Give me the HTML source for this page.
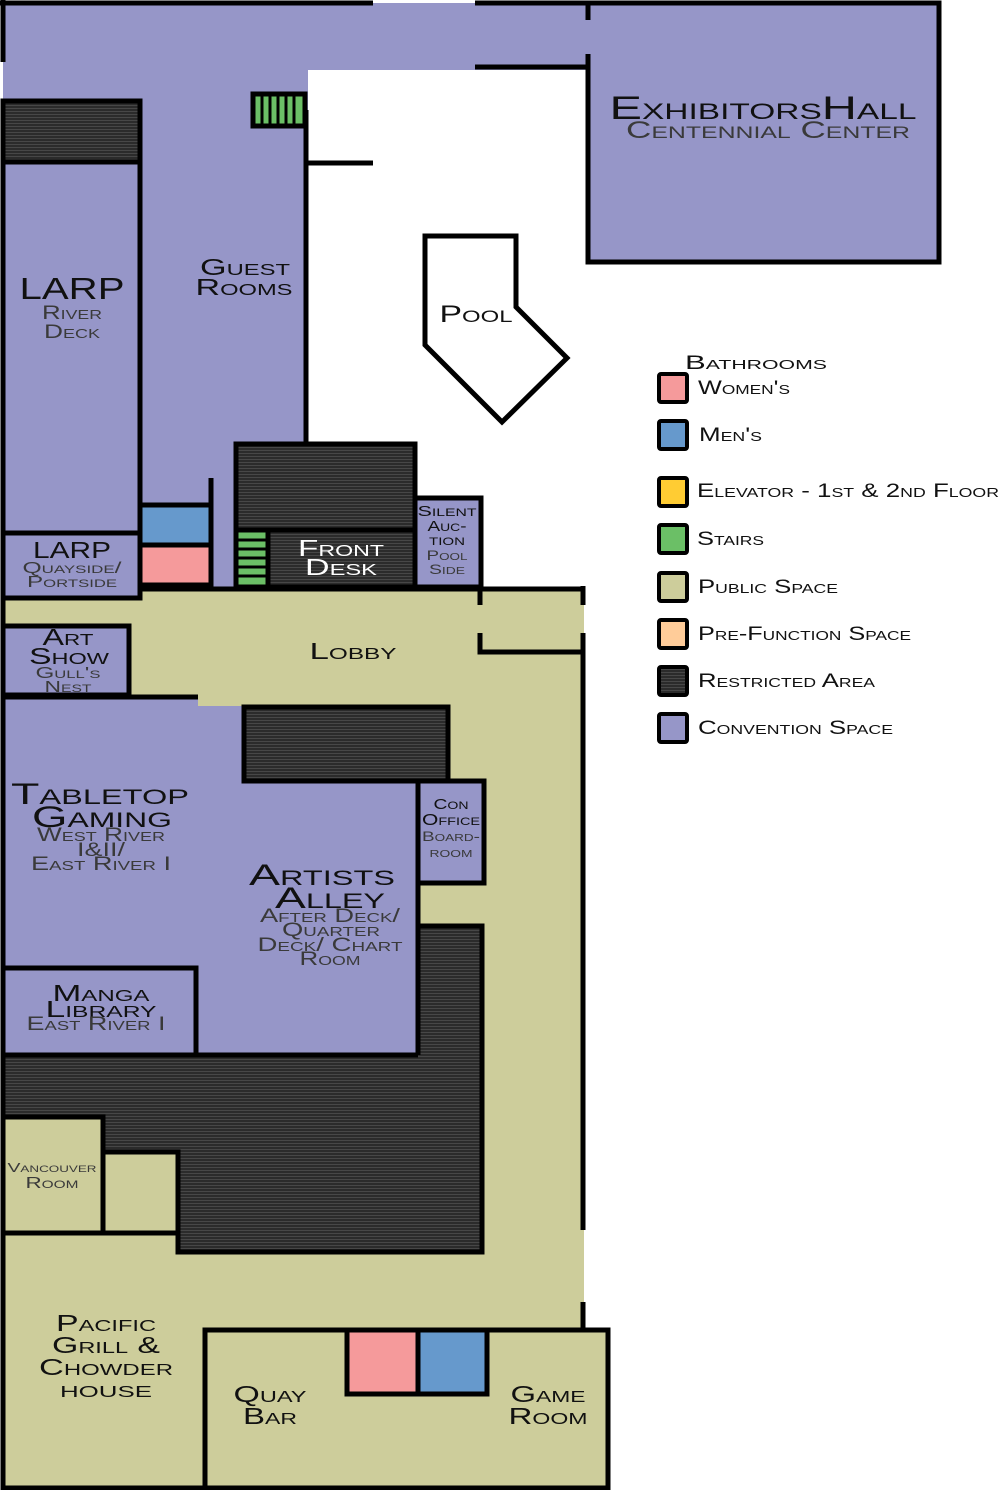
<!DOCTYPE html>
<html><head><style>
html,body{margin:0;padding:0;background:#fff;}
svg{display:block}
text{font-family:"Liberation Sans",sans-serif;font-variant:small-caps;text-anchor:middle;fill:#111;}
.s{fill:#3a3a3a}
.l{text-anchor:start;font-size:19px}
</style></head><body>
<svg width="1000" height="1490" viewBox="0 0 1000 1490" xmlns="http://www.w3.org/2000/svg">
<defs>
<pattern id="st" width="4" height="3" patternUnits="userSpaceOnUse">
<rect width="4" height="3" fill="#2b2b2b"/><rect y="0" width="4" height="1" fill="#474747"/>
</pattern>
</defs>
<g stroke="none">
<rect x="3" y="3" width="588" height="67" fill="#9696c8"/>
<rect x="3" y="70" width="305" height="520" fill="#9696c8"/>
<rect x="3" y="587" width="581" height="110" fill="#cdcd9b"/>
<rect x="418" y="690" width="166" height="650" fill="#cdcd9b"/>
<rect x="3" y="1233" width="581" height="255" fill="#cdcd9b"/>
<rect x="3" y="697" width="415" height="358" fill="#9696c8"/>
<rect x="198" y="690" width="386" height="16" fill="#cdcd9b"/>
<rect x="3" y="1055" width="480" height="197" fill="url(#st)"/>
<rect x="418" y="926" width="64" height="130" fill="url(#st)"/>
<rect x="3" y="1233" width="175" height="25" fill="#cdcd9b"/>
</g>
<g stroke="#000" stroke-width="5" fill="none">
<line x1="0" y1="3" x2="373" y2="3"/><line x1="475" y1="3" x2="590" y2="3"/>
<line x1="3" y1="0" x2="3" y2="62"/>
<line x1="475" y1="67" x2="590" y2="67"/>
<rect x="588" y="3" width="351" height="259" fill="#9696c8"/>
<line x1="306" y1="110" x2="306" y2="443"/>
<line x1="306" y1="163" x2="373" y2="163"/>
<polygon points="425,236 516,236 516,307 567,358 502,422 425,345" fill="#fff"/>
<rect x="253" y="94" width="52" height="32" fill="#6bbf66"/>
<rect x="3" y="101" width="137" height="61" fill="url(#st)"/>
<rect x="3" y="162" width="137" height="371" fill="#9696c8"/>
<rect x="3" y="533" width="137" height="65" fill="#9696c8"/>
<rect x="140" y="505" width="71" height="40" fill="#6699cc"/>
<rect x="140" y="545" width="71" height="40" fill="#f59a9b"/>
<line x1="211" y1="478" x2="211" y2="588"/>
<rect x="236" y="444" width="179" height="143" fill="url(#st)"/>
<rect x="236" y="530" width="32" height="57" fill="#6bbf66"/>
<rect x="268" y="530" width="147" height="57" fill="url(#st)"/>
<rect x="415" y="498" width="66" height="89" fill="#9696c8"/>
<line x1="140" y1="589" x2="583" y2="589"/>
<line x1="480" y1="587" x2="480" y2="605"/>
<polyline points="480,633 480,652 583,652"/>
<line x1="583" y1="586" x2="583" y2="605"/>
<line x1="583" y1="633" x2="583" y2="1230"/>
<line x1="583" y1="1302" x2="583" y2="1332"/>
<line x1="3" y1="587" x2="3" y2="1490"/>
<rect x="3" y="626" width="126" height="69" fill="#9696c8"/>
<line x1="3" y1="697" x2="198" y2="697"/>
<rect x="244" y="707" width="204" height="74" fill="url(#st)"/>
<rect x="418" y="781" width="66" height="102" fill="#9696c8"/>
<line x1="418" y1="781" x2="418" y2="1055"/>
<polyline points="418,926 482,926 482,1252 178,1252 178,1152"/>
<rect x="3" y="968" width="193" height="87" fill="#9696c8"/>
<line x1="3" y1="1055" x2="418" y2="1055"/>
<rect x="3" y="1117" width="100" height="116" fill="#cdcd9b"/>
<rect x="103" y="1152" width="75" height="81" fill="#cdcd9b"/>
<line x1="3" y1="1488" x2="205" y2="1488"/>
<rect x="205" y="1330" width="403" height="158" fill="#cdcd9b"/>
<rect x="347" y="1330" width="71" height="64" fill="#f59a9b"/>
<rect x="418" y="1330" width="69" height="64" fill="#6699cc"/>
</g>
<rect x="584" y="20" width="10" height="34" fill="#9696c8"/>
<g stroke="#000" stroke-width="3">
<line x1="262" y1="95" x2="262" y2="125"/><line x1="270" y1="95" x2="270" y2="125"/><line x1="278" y1="95" x2="278" y2="125"/><line x1="286" y1="95" x2="286" y2="125"/><line x1="294" y1="95" x2="294" y2="125"/>
<line x1="237" y1="540" x2="267" y2="540"/><line x1="237" y1="549" x2="267" y2="549"/><line x1="237" y1="558" x2="267" y2="558"/><line x1="237" y1="567" x2="267" y2="567"/><line x1="237" y1="576" x2="267" y2="576"/>
</g>
<text x="763" y="119" font-size="32" textLength="307" lengthAdjust="spacingAndGlyphs">ExhibitorsHall</text>
<text class="s" x="768" y="138" font-size="24" textLength="284" lengthAdjust="spacingAndGlyphs">Centennial Center</text>
<text x="245" y="275" font-size="23" textLength="90" lengthAdjust="spacingAndGlyphs">Guest</text>
<text x="244" y="295" font-size="23" textLength="97" lengthAdjust="spacingAndGlyphs">Rooms</text>
<text x="72" y="299" font-size="31" textLength="105" lengthAdjust="spacingAndGlyphs">LARP</text>
<text class="s" x="72" y="319" font-size="19" textLength="60" lengthAdjust="spacingAndGlyphs">River</text>
<text class="s" x="72" y="338" font-size="19" textLength="56" lengthAdjust="spacingAndGlyphs">Deck</text>
<text x="476" y="322" font-size="24" textLength="73" lengthAdjust="spacingAndGlyphs">Pool</text>
<text x="72" y="558" font-size="23" textLength="78" lengthAdjust="spacingAndGlyphs">LARP</text>
<text class="s" x="72" y="573" font-size="16" textLength="99" lengthAdjust="spacingAndGlyphs">Quayside/</text>
<text class="s" x="72" y="587" font-size="16" textLength="90" lengthAdjust="spacingAndGlyphs">Portside</text>
<text x="341" y="556" font-size="23" textLength="86" lengthAdjust="spacingAndGlyphs" style="fill:#fff">Front</text>
<text x="341" y="575" font-size="23" textLength="72" lengthAdjust="spacingAndGlyphs" style="fill:#fff">Desk</text>
<text x="447" y="516" font-size="15" textLength="59" lengthAdjust="spacingAndGlyphs">Silent</text>
<text x="447" y="531" font-size="15" textLength="39" lengthAdjust="spacingAndGlyphs">Auc-</text>
<text x="447" y="545" font-size="15" textLength="36" lengthAdjust="spacingAndGlyphs">tion</text>
<text class="s" x="447" y="560" font-size="14" textLength="41" lengthAdjust="spacingAndGlyphs">Pool</text>
<text class="s" x="447" y="574" font-size="14" textLength="36" lengthAdjust="spacingAndGlyphs">Side</text>
<text x="353" y="659" font-size="23" textLength="87" lengthAdjust="spacingAndGlyphs">Lobby</text>
<text x="68" y="645" font-size="23" textLength="51" lengthAdjust="spacingAndGlyphs">Art</text>
<text x="69" y="664" font-size="23" textLength="80" lengthAdjust="spacingAndGlyphs">Show</text>
<text class="s" x="68" y="678" font-size="16" textLength="65" lengthAdjust="spacingAndGlyphs">Gull's</text>
<text class="s" x="68" y="692" font-size="16" textLength="47" lengthAdjust="spacingAndGlyphs">Nest</text>
<text x="100" y="804" font-size="30" textLength="178" lengthAdjust="spacingAndGlyphs">Tabletop</text>
<text x="102" y="827" font-size="30" textLength="140" lengthAdjust="spacingAndGlyphs">Gaming</text>
<text class="s" x="101" y="841" font-size="19" textLength="128" lengthAdjust="spacingAndGlyphs">West River</text>
<text class="s" x="101" y="856" font-size="19" textLength="48" lengthAdjust="spacingAndGlyphs">I&amp;II/</text>
<text class="s" x="101" y="870" font-size="19" textLength="140" lengthAdjust="spacingAndGlyphs">East River I</text>
<text x="451" y="809" font-size="15" textLength="35" lengthAdjust="spacingAndGlyphs">Con</text>
<text x="451" y="825" font-size="16" textLength="58" lengthAdjust="spacingAndGlyphs">Office</text>
<text class="s" x="451" y="841" font-size="14" textLength="58" lengthAdjust="spacingAndGlyphs">Board-</text>
<text class="s" x="451" y="857" font-size="14" textLength="43" lengthAdjust="spacingAndGlyphs">room</text>
<text x="322" y="885" font-size="30" textLength="146" lengthAdjust="spacingAndGlyphs">Artists</text>
<text x="330" y="908" font-size="30" textLength="110" lengthAdjust="spacingAndGlyphs">Alley</text>
<text class="s" x="330" y="922" font-size="19" textLength="140" lengthAdjust="spacingAndGlyphs">After Deck/</text>
<text class="s" x="331" y="936" font-size="19" textLength="98" lengthAdjust="spacingAndGlyphs">Quarter</text>
<text class="s" x="330" y="951" font-size="19" textLength="145" lengthAdjust="spacingAndGlyphs">Deck/ Chart</text>
<text class="s" x="330" y="965" font-size="19" textLength="61" lengthAdjust="spacingAndGlyphs">Room</text>
<text x="101" y="1001" font-size="23" textLength="97" lengthAdjust="spacingAndGlyphs">Manga</text>
<text x="101" y="1017" font-size="23" textLength="111" lengthAdjust="spacingAndGlyphs">Library</text>
<text class="s" x="96" y="1030" font-size="19" textLength="139" lengthAdjust="spacingAndGlyphs">East River I</text>
<text class="s" x="52" y="1172" font-size="13" textLength="89" lengthAdjust="spacingAndGlyphs">Vancouver</text>
<text class="s" x="52" y="1188" font-size="16" textLength="53" lengthAdjust="spacingAndGlyphs">Room</text>
<text x="106" y="1331" font-size="23" textLength="100" lengthAdjust="spacingAndGlyphs">Pacific</text>
<text x="106" y="1353" font-size="23" textLength="108" lengthAdjust="spacingAndGlyphs">Grill &amp;</text>
<text x="106" y="1375" font-size="23" textLength="134" lengthAdjust="spacingAndGlyphs">Chowder</text>
<text x="106" y="1397" font-size="23" textLength="92" lengthAdjust="spacingAndGlyphs">house</text>
<text x="270" y="1402" font-size="23" textLength="73" lengthAdjust="spacingAndGlyphs">Quay</text>
<text x="270" y="1424" font-size="23" textLength="54" lengthAdjust="spacingAndGlyphs">Bar</text>
<text x="548" y="1402" font-size="23" textLength="75" lengthAdjust="spacingAndGlyphs">Game</text>
<text x="548" y="1424" font-size="23" textLength="79" lengthAdjust="spacingAndGlyphs">Room</text>
<g stroke="#000" stroke-width="4">
<rect x="659" y="374" width="28" height="28" rx="2" fill="#f59a9b"/>
<rect x="659" y="421" width="28" height="28" rx="2" fill="#6699cc"/>
<rect x="659" y="478" width="28" height="28" rx="2" fill="#ffcc33"/>
<rect x="659" y="525" width="28" height="28" rx="2" fill="#6bbf66"/>
<rect x="659" y="573" width="28" height="28" rx="2" fill="#cdcd9b"/>
<rect x="659" y="620" width="28" height="28" rx="2" fill="#ffcc99"/>
<rect x="659" y="667" width="28" height="28" rx="2" fill="url(#st)"/>
<rect x="659" y="714" width="28" height="28" rx="2" fill="#9696c8"/>
</g>
<text class="l" x="685" y="369" textLength="142" lengthAdjust="spacingAndGlyphs">Bathrooms</text>
<text class="l" x="698" y="394" textLength="92" lengthAdjust="spacingAndGlyphs">Women's</text>
<text class="l" x="699" y="441" textLength="63" lengthAdjust="spacingAndGlyphs">Men's</text>
<text class="l" x="697" y="497" textLength="302" lengthAdjust="spacingAndGlyphs">Elevator - 1st &amp; 2nd Floor</text>
<text class="l" x="697" y="545" textLength="67" lengthAdjust="spacingAndGlyphs">Stairs</text>
<text class="l" x="698" y="593" textLength="140" lengthAdjust="spacingAndGlyphs">Public Space</text>
<text class="l" x="698" y="640" textLength="213" lengthAdjust="spacingAndGlyphs">Pre-Function Space</text>
<text class="l" x="698" y="687" textLength="177" lengthAdjust="spacingAndGlyphs">Restricted Area</text>
<text class="l" x="698" y="734" textLength="195" lengthAdjust="spacingAndGlyphs">Convention Space</text>
</svg>
</body></html>
